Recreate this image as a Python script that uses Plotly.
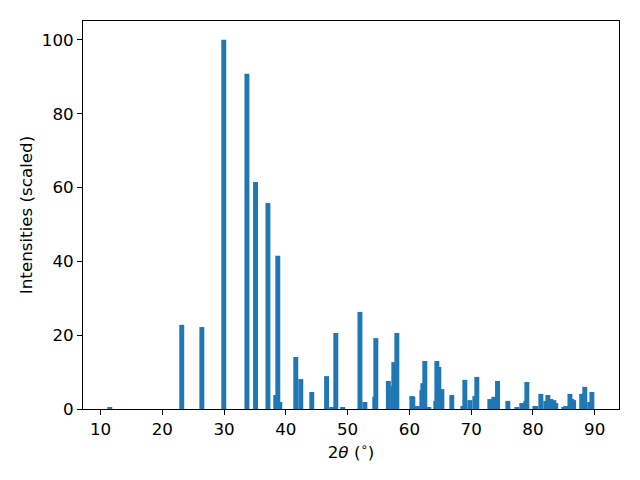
import numpy as np
import plotly.graph_objects as go

two_theta = [11.5, 23.15, 26.4, 29.95, 33.7, 35.1, 37.1, 38.37, 38.70, 39.02,
             41.61, 42.42, 44.2, 46.6, 47.44, 48.09, 49.2, 52.0, 52.8, 54.4,
             54.57, 56.6, 57.32, 57.48, 57.97, 60.40, 60.56, 61.3, 62.02, 62.18,
             62.50, 63.15, 64.28, 64.45, 64.77, 65.26, 66.87, 68.66, 68.98, 69.79,
             70.6, 70.92, 73.03, 73.68, 74.27, 75.94, 77.40, 78.21, 78.86, 79.02,
             80.32, 80.48, 81.29, 82.1, 82.42, 82.9, 83.4, 83.7, 85.0, 85.3,
             86.0, 86.3, 86.6, 87.9, 88.4, 89.2, 89.55]
intensity = [0.5, 22.8, 22.2, 100, 90.8, 61.5, 55.8, 3.8, 41.5, 1.9,
             14.1, 8.1, 4.6, 8.9, 0.3, 20.6, 0.5, 26.3, 1.9, 3.3,
             19.2, 7.6, 6.2, 12.7, 20.6, 3.5, 3.3, 0.8, 5.1, 7.0,
             13.0, 0.3, 2.2, 13.0, 11.4, 5.4, 3.8, 0.8, 7.9, 2.4,
             3.5, 8.7, 2.7, 3.3, 7.6, 2.2, 0.3, 1.6, 2.2, 7.3,
             0.8, 0.8, 4.1, 2.2, 3.8, 2.7, 2.4, 1.6, 0.3, 0.8,
             4.1, 2.7, 2.4, 4.1, 6.0, 1.9, 4.6]
x_ticks = [10, 20, 30, 40, 50, 60, 70, 80, 90]
y_ticks = [0, 20, 40, 60, 80, 100]

# draw shorter bars first so taller ones sit on top
order = np.argsort(np.array(intensity), kind="stable")
xs = np.array(two_theta)[order]
ys = np.array(intensity)[order]

fig = go.Figure(go.Bar(x=xs, y=ys, width=0.8,
                       marker=dict(color="#1f77b4", line=dict(width=0))))

font = dict(family="DejaVu Sans", size=16.7, color="black")
# the page body adds an 8px margin, so the figure is 8px smaller on each axis
fig.update_layout(
    template="none",
    width=632, height=472,
    margin=dict(l=75, r=21, t=13, b=71),
    paper_bgcolor="white", plot_bgcolor="white",
    barmode="overlay", showlegend=False,
    font=font,
    xaxis=dict(range=[7.16, 93.94], tickvals=x_ticks, ticks="outside", ticklen=5,
               tickwidth=1, tickcolor="black", showline=True, mirror=True,
               linecolor="black", linewidth=1, showgrid=False, zeroline=False,
               automargin=False, tickfont=font,
               title=dict(text="2<i>θ</i> (<sup>∘</sup>)", font=font, standoff=8)),
    yaxis=dict(range=[0, 105.1], tickvals=y_ticks, ticks="outside", ticklen=5,
               tickwidth=1, tickcolor="black", showline=True, mirror=True,
               linecolor="black", linewidth=1, showgrid=False, zeroline=False,
               automargin=False, tickfont=font,
               title=dict(text="Intensities (scaled)", font=font, standoff=4)),
)
fig.write_html("out.html")
